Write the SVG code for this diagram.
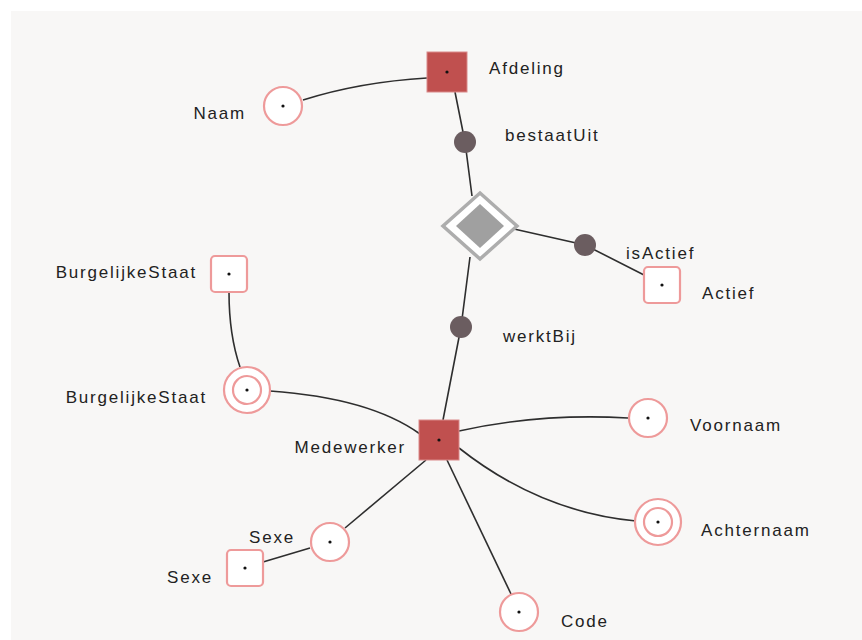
<svg xmlns="http://www.w3.org/2000/svg" width="862" height="640" viewBox="0 0 862 640">
  <style>
    .edge { fill: none; stroke: #2e2e2e; stroke-width: 1.6; }
    .entity { fill: #c0504f; stroke: #d98a8a; stroke-width: 1; }
    .val { fill: #ffffff; stroke: #ee9a9a; stroke-width: 2.2; }
    .role { fill: #6b5d60; }
    .pt { fill: #111111; }
    .lbl { font-family: "Liberation Sans", Arial, sans-serif; font-size: 17px; letter-spacing: 1.8px; fill: #222222; }
    .end { text-anchor: end; }
  </style>
  <rect x="0" y="0" width="862" height="640" fill="#ffffff"/>
  <rect x="11" y="11" width="851" height="629" fill="#f8f7f6"/>

  <g id="connectors">
    <path class="edge" d="M303,100 Q360,82 427,78"/>
    <path class="edge" d="M455,92 L465,142 L472,196"/>
    <path class="edge" d="M514,229 L585,245 L646,276"/>
    <path class="edge" d="M470,257 L461,327 L443,420"/>
    <path class="edge" d="M229,292 Q229,335 240,367"/>
    <path class="edge" d="M270,391 Q370,398 420,434"/>
    <path class="edge" d="M459,431 Q540,413 628,418"/>
    <path class="edge" d="M459,448 Q540,512 636,521"/>
    <path class="edge" d="M447,460 L511,594"/>
    <path class="edge" d="M426,460 L345,528"/>
    <path class="edge" d="M310,548 L263,562"/>
  </g>

  <g id="afdeling">
    <rect class="entity" x="427" y="52" width="40" height="40"/>
    <circle class="pt" cx="447" cy="72" r="1.6"/>
    <text class="lbl" x="489" y="74">Afdeling</text>
  </g>

  <g id="naam">
    <circle class="val" cx="283" cy="106" r="19"/>
    <circle class="pt" cx="283" cy="106" r="1.6"/>
    <text class="lbl end" x="246" y="119">Naam</text>
  </g>

  <g id="bestaatUit">
    <circle class="role" cx="465" cy="142" r="11"/>
    <text class="lbl" x="505" y="141">bestaatUit</text>
  </g>

  <g id="objectivering">
    <polygon points="480,193 517,226 480,259 443,226" fill="#ffffff" stroke="#adadad" stroke-width="3.5"/>
    <polygon points="480,204 504,226 480,248 456,226" fill="#a0a0a0"/>
  </g>

  <g id="isActief">
    <circle class="role" cx="585" cy="245" r="11"/>
    <text class="lbl" x="626" y="259">isActief</text>
  </g>

  <g id="actief">
    <rect class="val" x="644" y="267" width="36" height="36" rx="4"/>
    <circle class="pt" cx="662" cy="285" r="1.6"/>
    <text class="lbl" x="702" y="299">Actief</text>
  </g>

  <g id="werktBij">
    <circle class="role" cx="461" cy="327" r="11"/>
    <text class="lbl" x="503" y="342">werktBij</text>
  </g>

  <g id="medewerker">
    <rect class="entity" x="419" y="420" width="40" height="40"/>
    <circle class="pt" cx="439" cy="440" r="1.6"/>
    <text class="lbl end" x="406" y="453">Medewerker</text>
  </g>

  <g id="burgelijkeStaatWaarde">
    <rect class="val" x="211" y="256" width="36" height="36" rx="4"/>
    <circle class="pt" cx="229" cy="274" r="1.6"/>
    <text class="lbl end" x="197" y="278">BurgelijkeStaat</text>
  </g>

  <g id="burgelijkeStaat">
    <circle class="val" cx="247" cy="390" r="23"/>
    <circle class="val" cx="247" cy="390" r="14"/>
    <circle class="pt" cx="247" cy="390" r="1.6"/>
    <text class="lbl end" x="207" y="403">BurgelijkeStaat</text>
  </g>

  <g id="voornaam">
    <circle class="val" cx="648" cy="418" r="19"/>
    <circle class="pt" cx="648" cy="418" r="1.6"/>
    <text class="lbl" x="690" y="431">Voornaam</text>
  </g>

  <g id="achternaam">
    <circle class="val" cx="658" cy="522" r="23"/>
    <circle class="val" cx="658" cy="522" r="14"/>
    <circle class="pt" cx="658" cy="522" r="1.6"/>
    <text class="lbl" x="701" y="536">Achternaam</text>
  </g>

  <g id="code">
    <circle class="val" cx="519" cy="612" r="19"/>
    <circle class="pt" cx="519" cy="612" r="1.6"/>
    <text class="lbl" x="561" y="627">Code</text>
  </g>

  <g id="sexe">
    <circle class="val" cx="330" cy="542" r="19"/>
    <circle class="pt" cx="330" cy="542" r="1.6"/>
    <text class="lbl end" x="295" y="543">Sexe</text>
  </g>

  <g id="sexeWaarde">
    <rect class="val" x="227" y="550" width="36" height="36" rx="4"/>
    <circle class="pt" cx="245" cy="568" r="1.6"/>
    <text class="lbl end" x="213" y="583">Sexe</text>
  </g>
</svg>
